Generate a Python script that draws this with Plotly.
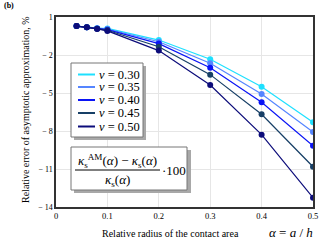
import plotly.graph_objects as go

alpha = [0.04, 0.06, 0.08, 0.1, 0.2, 0.3, 0.4, 0.5]
nu_labels = ["0.30", "0.35", "0.40", "0.45", "0.50"]
err_030 = [0.28, 0.2, 0.12, 0.1, -0.82, -2.34, -4.5, -7.31]
err_035 = [0.28, 0.2, 0.1, 0.05, -0.95, -2.65, -5.08, -8.08]
err_040 = [0.28, 0.2, 0.09, 0.0, -1.1, -3.0, -5.73, -9.16]
err_045 = [0.28, 0.2, 0.08, -0.05, -1.35, -3.55, -6.68, -10.82]
err_050 = [0.28, 0.19, 0.06, -0.1, -1.65, -4.37, -8.29, -13.26]
series = [err_030, err_035, err_040, err_045, err_050]
colors = ["#1ee0ff", "#5585ff", "#0a14f5", "#173f66", "#0c0c7a"]
yticks = [1, -2, -5, -8, -11, -14]
ytick_text = ["1", "− 2", "− 5", "− 8", "− 11", "− 14"]
xticks = [0, 0.1, 0.2, 0.3, 0.4, 0.5]
xtick_text = ["0", "0.1", "0.2", "0.3", "0.4", "0.5"]

SERIF = "Liberation Serif"
W, H = 320, 240
L, R, T, B = 56, 7, 17, 33
pw, ph = W - L - R, H - T - B


def px(x):
    return (x - L) / pw


def py(y):
    return (H - B - y) / ph


fig = go.Figure()
for nu, ys, c in zip(nu_labels, series, colors):
    fig.add_trace(go.Scatter(x=alpha, y=ys, mode="lines+markers",
                             line=dict(color=c, width=1.2),
                             marker=dict(color=c, size=6),
                             name="ν = " + nu, showlegend=False))

shapes = []
annotations = []
# legend box with shadow
shapes.append(dict(type="rect", xref="paper", yref="paper",
                   x0=px(74), x1=px(146), y0=py(140), y1=py(66),
                   fillcolor="#a8a8a8", line=dict(width=0), layer="above"))
shapes.append(dict(type="rect", xref="paper", yref="paper",
                   x0=px(71), x1=px(143), y0=py(137), y1=py(63),
                   fillcolor="white", line=dict(color="#777", width=1), layer="above"))
row_y = [74.5, 87, 100, 113, 126.5]
for nu, c, ry in zip(nu_labels, colors, row_y):
    shapes.append(dict(type="line", xref="paper", yref="paper",
                       x0=px(78), x1=px(95), y0=py(ry), y1=py(ry),
                       line=dict(color=c, width=2), layer="above"))
    annotations.append(dict(text="<i>ν</i> = " + nu, x=px(97), y=py(ry),
                            xref="paper", yref="paper", showarrow=False,
                            xanchor="left", yanchor="middle",
                            font=dict(family=SERIF, size=12.5, color="black")))

# formula box shadow + box
shapes.append(dict(type="rect", xref="paper", yref="paper",
                   x0=px(74), x1=px(191), y0=py(193), y1=py(150),
                   fillcolor="#a8a8a8", line=dict(width=0), layer="above"))
shapes.append(dict(type="rect", xref="paper", yref="paper",
                   x0=px(71), x1=px(187), y0=py(190), y1=py(147),
                   fillcolor="white", line=dict(color="#777", width=1), layer="above"))
shapes.append(dict(type="line", xref="paper", yref="paper",
                   x0=px(75), x1=px(160), y0=py(170), y1=py(170),
                   line=dict(color="black", width=1), layer="above"))

annotations += [
    dict(text="<b>(b)</b>", x=px(2), y=py(5), xref="paper", yref="paper",
         xanchor="left", yanchor="middle", showarrow=False,
         font=dict(family=SERIF, size=8, color="black")),
    dict(text="<i>κ</i><sub>s</sub><sup>AM</sup>(<i>α</i>) − <i>κ</i><sub>s</sub>(<i>α</i>)",
         x=px(117), y=py(161), xref="paper", yref="paper", showarrow=False,
         xanchor="center", yanchor="middle",
         font=dict(family=SERIF, size=13, color="black")),
    dict(text="<i>κ</i><sub>s</sub>(<i>α</i>)",
         x=px(117), y=py(180), xref="paper", yref="paper", showarrow=False,
         xanchor="center", yanchor="middle",
         font=dict(family=SERIF, size=13, color="black")),
    dict(text="·100", x=px(174), y=py(170), xref="paper", yref="paper", showarrow=False,
         xanchor="center", yanchor="middle",
         font=dict(family=SERIF, size=13, color="black")),
    dict(text="Relative radius of the contact area", x=px(170), y=py(233),
         xref="paper", yref="paper", showarrow=False, xanchor="center", yanchor="middle",
         font=dict(family=SERIF, size=10, color="black")),
    dict(text="<i>α</i> = <i>a</i> / <i>h</i>", x=px(291), y=py(232),
         xref="paper", yref="paper", showarrow=False, xanchor="center", yanchor="middle",
         font=dict(family=SERIF, size=13, color="black")),
    dict(text="Relative error of asymptotic approximation, %", x=px(25), y=py(110),
         xref="paper", yref="paper", showarrow=False, xanchor="center", yanchor="middle",
         textangle=-90, font=dict(family=SERIF, size=10, color="black")),
]

fig.update_layout(
    width=W, height=H,
    margin=dict(l=L, r=R, t=T, b=B),
    paper_bgcolor="white", plot_bgcolor="white",
    shapes=shapes, annotations=annotations,
    showlegend=False,
    xaxis=dict(range=[0, 0.5], tickvals=xticks, ticktext=xtick_text,
               showgrid=True, gridcolor="#e6e6e6", gridwidth=1,
               showline=True, linecolor="#333", linewidth=1.5, mirror=True,
               ticks="", zeroline=False, automargin=False,
               tickfont=dict(family=SERIF, size=8.5, color="black")),
    yaxis=dict(range=[-14, 1], tickvals=yticks, ticktext=ytick_text,
               showgrid=True, gridcolor="#e6e6e6", gridwidth=1,
               showline=True, linecolor="#333", linewidth=1.5, mirror=True,
               ticks="", zeroline=False, automargin=False,
               tickfont=dict(family=SERIF, size=8, color="black")),
)

fig.write_html("out.html", config={"displayModeBar": False},
               post_script="document.body.style.margin='0';")
